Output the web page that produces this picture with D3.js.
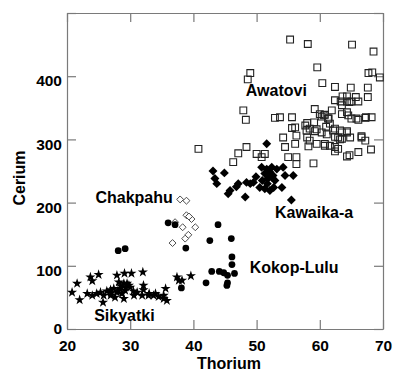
<!DOCTYPE html>
<html>
<head>
<meta charset="utf-8">
<script src="https://cdn.jsdelivr.net/npm/d3@7"></script>
<style>
  body { margin: 0; background: #fff; }
  text { font-family: "Liberation Sans", Arial, sans-serif; font-weight: bold; }
</style>
</head>
<body>
<script>
// thorium / cerium values, one array per site
const awatovi = [
  [55.3,458],[58.1,451],[65.1,450],[68.5,439],[49.0,405],[48.6,395],[59.6,414],[67.7,405],[68.3,406],[69.5,398],
  [60.4,389],[62.4,383],[64.9,382],[67.6,382],[67.6,367],[63.6,368],[64.3,368],[65.7,367],[62.4,362],[63.3,360],
  [64.3,360],[65.0,360],[66.1,360],[63.5,354],[64.7,359],[47.9,346],[48.3,331],[52.9,334],[53.7,335],[55.6,335],
  [59.2,348],[60.8,339],[61.9,346],[58.0,326],[59.1,327],[60.3,336],[61.3,333],[61.6,325],[65.0,333],[66.1,331],
  [67.3,335],[68.2,335],[64.3,343],[55.6,318],[56.1,319],[57.9,314],[59.2,313],[60.3,311],[61.1,308],[62.1,314],
  [63.2,314],[64.3,313],[54.2,303],[56.3,306],[58.0,303],[58.4,298],[59.5,293],[60.8,293],[61.6,290],[62.4,288],
  [62.9,303],[63.5,301],[66.6,305],[67.2,298],[54.5,288],[56.1,293],[64.3,273],[64.7,275],[66.1,280],[68.1,284],
  [62.4,281],[59.0,262],[40.8,285],[48.4,288],[47.1,278],[50.0,277],[51.3,277],[46.3,264],[55.0,272],[56.3,272],
  [56.3,261],[50.8,272],[62.9,285],[60.0,340],[60.6,338],[61.4,333],[63.5,340],[64.5,338],[59.5,316],[61.0,320],
  [62.4,317],[63.5,311],[64.3,311],[62.4,304],[63.2,300],[64.8,303],[58.2,289],[60.8,290],[57.7,322],[58.4,317],
  [65.8,333],[67.2,334],[66.6,303]
];
const kawaika = [
  [51.6,293],[43.1,250],[44.9,247],[43.4,238],[43.7,230],[50.8,256],[51.6,253],[52.4,256],[53.2,253],[54.2,256],
  [51.3,246],[52.1,248],[52.6,243],[51.8,238],[52.9,235],[52.4,240],[54.5,243],[55.8,243],[47.1,230],[46.8,225],
  [48.4,232],[49.5,232],[49.0,230],[45.8,219],[45.5,214],[50.5,224],[51.3,222],[52.1,219],[52.7,224],[54.0,224],
  [48.2,209],[55.5,204],[50.9,235],[51.7,230],[49.9,241]
];
const chakpahu = [
  [37.9,205],[38.9,203],[38.9,180],[39.7,174],[37.1,169],[38.3,161],[40.3,161],[39.2,149],[38.7,143],[36.7,136],
  [39.3,178]
];
const kokopLulu = [
  [36.0,168],[37.1,165],[28.1,124],[29.2,127],[38.8,128],[38.1,65],[43.9,165],[42.6,140],[46.0,143],[46.1,114],
  [46.1,102],[42.9,91],[44.1,91],[44.8,89],[45.4,85],[46.5,88],[42.0,73],[45.4,73],[45.3,69]
];
const sikyatki = [
  [20.8,58],[21.6,72],[22.0,46],[23.7,82],[24.0,76],[25.0,86],[27.9,85],[29.1,88],[30.2,88],[32.0,90],
  [25.7,42],[24.0,53],[24.7,56],[25.3,58],[25.8,53],[26.3,60],[26.9,62],[27.4,64],[27.9,58],[28.4,64],
  [29.0,72],[29.5,72],[29.8,69],[30.0,66],[29.2,61],[28.7,56],[27.6,50],[26.9,53],[29.0,48],[30.6,53],
  [31.1,58],[32.1,62],[32.1,69],[31.9,53],[32.9,53],[33.7,53],[34.5,51],[35.3,53],[35.6,64],[35.8,45],
  [35.3,48],[37.4,82],[37.7,77],[38.2,77],[39.6,84],[28.5,68],[29.3,66],[28.0,60],[30.5,60],[27.0,57],
  [23.2,56],[28.2,74],[33.0,56],[34.0,56]
];
const xTicks = [20, 30, 40, 50, 60, 70];
const yTicks = [0, 100, 200, 300, 400, 500];
const yLabels = [0, 100, 200, 300, 400];
const siteLabels = [
  {name: "Awatovi", x: 48.3, y: 368},
  {name: "Chakpahu", x: 24.5, y: 199},
  {name: "Kawaika-a", x: 52.9, y: 176},
  {name: "Kokop-Lulu", x: 48.9, y: 89},
  {name: "Sikyatki", x: 24.3, y: 13}
];

const W = 394, H = 370;
const svg = d3.select('body').append('svg')
	.attr('width', W)
	.attr('height', H);

const x = d3.scaleLinear().domain([20, 70]).range([67, 383]);
const y = d3.scaleLinear().domain([0, 500]).range([329, 13]);

const frameColor = '#7a7a7a';

// four axes, ticks pointing inwards, labels only bottom and left
const gb = svg.append('g').attr('transform', `translate(0,${y(0)})`)
	.call(d3.axisBottom(x).tickValues(xTicks).tickSize(-9).tickSizeOuter(0).tickPadding(12));
const gt = svg.append('g').attr('transform', `translate(0,${y(500)})`)
	.call(d3.axisTop(x).tickValues(xTicks).tickSize(-9).tickSizeOuter(0).tickFormat(''));
const gl = svg.append('g').attr('transform', `translate(${x(20)},0)`)
	.call(d3.axisLeft(y).tickValues(yTicks).tickSize(-9).tickSizeOuter(0).tickPadding(5)
		.tickFormat(d => yLabels.includes(d) ? d : ''));
const gr = svg.append('g').attr('transform', `translate(${x(70)},0)`)
	.call(d3.axisRight(y).tickValues(yTicks).tickSize(-9).tickSizeOuter(0).tickFormat(''));

[gb, gt, gl, gr].forEach(g => {
	g.selectAll('path, line').attr('stroke', frameColor).attr('stroke-width', 1.2);
	g.selectAll('text').attr('fill', '#000').style('font-size', '15.5px').style('font-weight', 'bold')
		.style('font-family', '"Liberation Sans", Arial, sans-serif');
});
// labels sit a little below their ticks, except 0 which would hit the 20
gl.selectAll('text').attr('dy', d => d === 0 ? '0.3em' : '0.62em');
gb.selectAll('text').attr('dy', '0.66em');

// points
const pos = d => `translate(${x(d[0])},${y(d[1])})`;

svg.append('g').selectAll('path')
	.data(awatovi).join('path')
	.attr('d', d3.symbol().type(d3.symbolSquare).size(46)())
	.attr('transform', pos)
	.attr('fill', 'none')
	.attr('stroke', '#222')
	.attr('stroke-width', 1.1);

svg.append('g').selectAll('path')
	.data(kawaika).join('path')
	.attr('d', d3.symbol().type(d3.symbolSquare).size(40)())
	.attr('transform', d => pos(d) + ' rotate(45)')
	.attr('fill', '#000');

svg.append('g').selectAll('path')
	.data(chakpahu).join('path')
	.attr('d', d3.symbol().type(d3.symbolSquare).size(24)())
	.attr('transform', d => pos(d) + ' rotate(45)')
	.attr('fill', 'white')
	.attr('stroke', '#444')
	.attr('stroke-width', 0.9);

svg.append('g').selectAll('path')
	.data(kokopLulu).join('path')
	.attr('d', d3.symbol().type(d3.symbolCircle).size(36)())
	.attr('transform', pos)
	.attr('fill', '#000');

svg.append('g').selectAll('path')
	.data(sikyatki).join('path')
	.attr('d', d3.symbol().type(d3.symbolStar).size(32)())
	.attr('transform', pos)
	.attr('fill', '#000');

// site names
svg.append('g').selectAll('text')
	.data(siteLabels).join('text')
	.attr('x', d => x(d.x))
	.attr('y', d => y(d.y))
	.style('font-size', '16px')
	.text(d => d.name);

// axis titles
svg.append('text')
	.attr('x', 229).attr('y', 368.5)
	.attr('text-anchor', 'middle')
	.style('font-size', '16px')
	.text('Thorium');

svg.append('text')
	.attr('transform', 'translate(25,178) rotate(-90)')
	.attr('text-anchor', 'middle')
	.style('font-size', '16px')
	.text('Cerium');
</script>
</body>
</html>
